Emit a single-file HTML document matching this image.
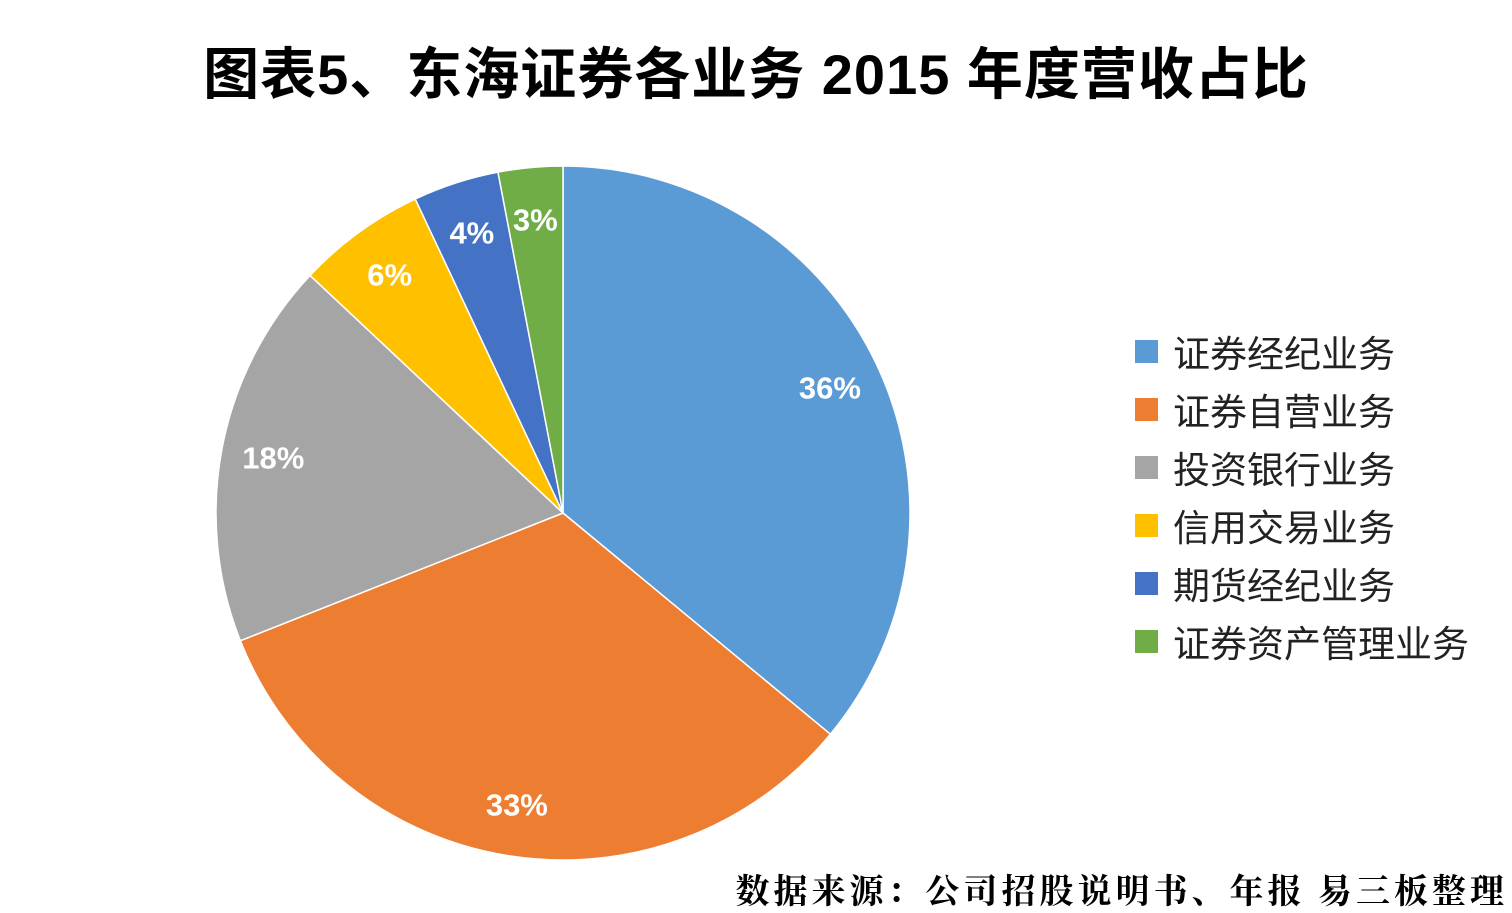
<!DOCTYPE html>
<html><head><meta charset="utf-8">
<style>
html,body{margin:0;padding:0;background:#fff;}
body{width:1512px;height:912px;overflow:hidden;position:relative;font-family:"Liberation Sans","Noto Sans CJK SC",sans-serif;}
#title{position:absolute;left:0;width:1512px;top:30px;text-align:center;font-size:56px;font-weight:bold;color:#000;letter-spacing:1px;}
#legend{position:absolute;left:1135px;top:322px;}
.li{height:58px;display:flex;align-items:center;font-size:37px;color:#222;}
.sw{width:23px;height:23px;margin-right:15px;}
#src{position:absolute;right:4px;top:864px;font-family:"Liberation Serif","Noto Serif CJK SC",serif;font-weight:bold;font-size:34px;letter-spacing:4px;color:#000;}
</style></head><body>
<div id="title">图表5、东海证券各业务 2015 年度营收占比</div>
<svg id="pie" width="1512" height="912" style="position:absolute;left:0;top:0"></svg>
<div id="legend"></div>
<div id="src">数据来源：公司招股说明书、年报 易三板整理</div>
<script>
const categories=["证券经纪业务","证券自营业务","投资银行业务","信用交易业务","期货经纪业务","证券资产管理业务"];
const values=[36,33,18,6,4,3];
const labels=["36%","33%","18%","6%","4%","3%"];
const colors=["#5B9BD5","#ED7D31","#A5A5A5","#FFC000","#4472C4","#70AD47"];
const cx=563,cy=513,r=347;
const svg=document.getElementById('pie');
const NS="http://www.w3.org/2000/svg";
const total=values.reduce((a,b)=>a+b,0);
let a0=0;
function pt(a,rr){return [cx+rr*Math.sin(a),cy-rr*Math.cos(a)];}
values.forEach((v,i)=>{
  const a1=a0+v/total*2*Math.PI;
  const p0=pt(a0,r),p1=pt(a1,r);
  const large=(a1-a0)>Math.PI?1:0;
  const p=document.createElementNS(NS,'path');
  p.setAttribute('d',`M${cx},${cy}L${p0[0]},${p0[1]}A${r},${r} 0 ${large} 1 ${p1[0]},${p1[1]}Z`);
  p.setAttribute('fill',colors[i]);p.setAttribute('stroke','#fff');p.setAttribute('stroke-width','1.5');
  
  
  svg.appendChild(p);
  const m=(a0+a1)/2;const lp=pt(m,r*0.85);
  const t=document.createElementNS(NS,'text');
  t.setAttribute('x',lp[0]);t.setAttribute('y',lp[1]+11);
  t.setAttribute('text-anchor','middle');t.setAttribute('fill','#fff');
  t.setAttribute('font-size','31');t.setAttribute('font-weight','bold');
  t.setAttribute('font-family','Liberation Sans, sans-serif');
  t.textContent=labels[i];
  
  
  svg.appendChild(t);
  a0=a1;
});
const lg=document.getElementById('legend');
categories.forEach((c,i)=>{
  const d=document.createElement('div');d.className='li';
  
  
  d.innerHTML=`<span class="sw" style="background:${colors[i]}"></span><span>${c}</span>`;
  lg.appendChild(d);
});
</script>
</body></html>
